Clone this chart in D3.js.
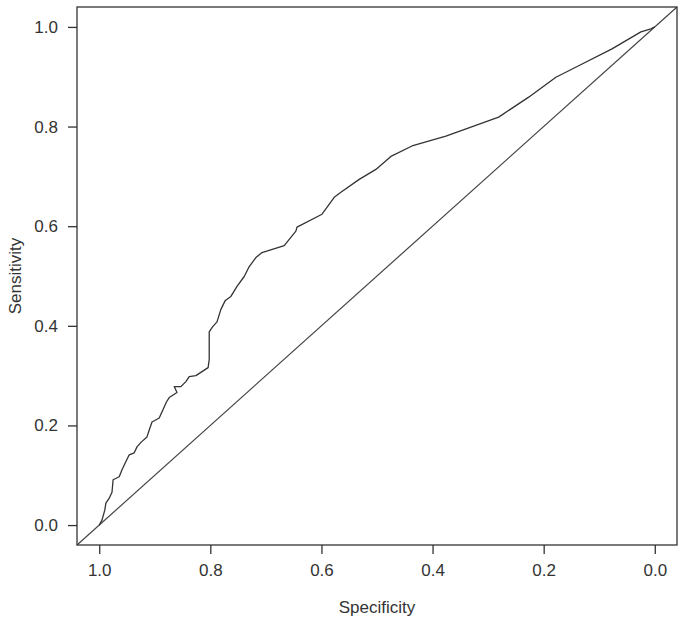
<!DOCTYPE html>
<html>
<head>
<meta charset="utf-8">
<script src="https://cdn.jsdelivr.net/npm/d3@7"></script>
<style>
  body { margin: 0; background: #fff; }
  svg text { font-family: "Liberation Sans", Arial, sans-serif; fill: #333; }
</style>
</head>
<body>
<div id="chart"></div>
<script>
// ROC curve (specificity, sensitivity)
const specificity = [1.000, 0.995, 0.990, 0.988, 0.982, 0.977, 0.975, 0.964, 0.959, 0.953,
  0.946, 0.937, 0.932, 0.924, 0.914, 0.910, 0.905, 0.892, 0.879, 0.874,
  0.860, 0.865, 0.853, 0.844, 0.838, 0.826, 0.804, 0.802, 0.802, 0.796,
  0.788, 0.781, 0.773, 0.763, 0.752, 0.739, 0.730, 0.718, 0.707, 0.667,
  0.646, 0.644, 0.599, 0.577, 0.565, 0.532, 0.502, 0.475, 0.437, 0.376,
  0.281, 0.227, 0.178, 0.137, 0.077, 0.025, 0.007, 0.000];
const sensitivity = [0.000, 0.010, 0.030, 0.044, 0.054, 0.066, 0.091, 0.097, 0.111, 0.125,
  0.141, 0.145, 0.157, 0.167, 0.177, 0.191, 0.207, 0.215, 0.247, 0.256,
  0.266, 0.278, 0.278, 0.288, 0.298, 0.300, 0.316, 0.332, 0.388, 0.398,
  0.408, 0.433, 0.451, 0.459, 0.479, 0.499, 0.519, 0.537, 0.547, 0.561,
  0.590, 0.598, 0.624, 0.658, 0.668, 0.694, 0.714, 0.740, 0.761, 0.781,
  0.819, 0.859, 0.899, 0.922, 0.956, 0.990, 0.996, 1.000];
const ticks = [1.0, 0.8, 0.6, 0.4, 0.2, 0.0];

(() => {
  const W = 685, H = 625;
  const mLeft = 77, mRight = 677, mTop = 7, mBottom = 545;

  const x = d3.scaleLinear().domain([1.04, -0.04]).range([mLeft, mRight]);
  const y = d3.scaleLinear().domain([-0.04, 1.04]).range([mBottom, mTop]);

  const svg = d3.select('#chart').append('svg')
    .attr('width', W).attr('height', H);

  // diagonal reference line, corner to corner
  svg.append('line')
    .attr('x1', x(1.04)).attr('y1', y(-0.04))
    .attr('x2', x(-0.04)).attr('y2', y(1.04))
    .attr('stroke', '#444').attr('stroke-width', 1.2);

  const pts = specificity.map((s, i) => [s, sensitivity[i]]);
  svg.append('path')
    .datum(pts)
    .attr('fill', 'none')
    .attr('stroke', '#333')
    .attr('stroke-width', 1.3)
    .attr('stroke-linejoin', 'round')
    .attr('d', d3.line().x(d => x(d[0])).y(d => y(d[1])));

  // box
  svg.append('rect')
    .attr('x', mLeft).attr('y', mTop)
    .attr('width', mRight - mLeft).attr('height', mBottom - mTop)
    .attr('fill', 'none').attr('stroke', '#333').attr('stroke-width', 1.3);

  const xAxis = svg.append('g')
    .attr('transform', `translate(0,${mBottom})`)
    .call(d3.axisBottom(x).tickValues(ticks).tickFormat(d3.format('.1f')).tickSize(9).tickPadding(10));
  const yAxis = svg.append('g')
    .attr('transform', `translate(${mLeft},0)`)
    .call(d3.axisLeft(y).tickValues(ticks).tickFormat(d3.format('.1f')).tickSize(9).tickPadding(10));

  [xAxis, yAxis].forEach(g => {
    g.select('.domain').remove();
    g.selectAll('line').attr('stroke', '#333').attr('stroke-width', 1.3);
    g.selectAll('text').style('font-size', '17px')
      .style('font-family', '"Liberation Sans", Arial, sans-serif').attr('fill', '#333');
  });

  svg.append('text')
    .attr('x', (mLeft + mRight) / 2).attr('y', 613)
    .attr('text-anchor', 'middle')
    .style('font-size', '17px')
    .text('Specificity');

  svg.append('text')
    .attr('transform', `translate(21,${(mTop + mBottom) / 2}) rotate(-90)`)
    .attr('text-anchor', 'middle')
    .style('font-size', '17px')
    .text('Sensitivity');
})();
</script>
</body>
</html>
